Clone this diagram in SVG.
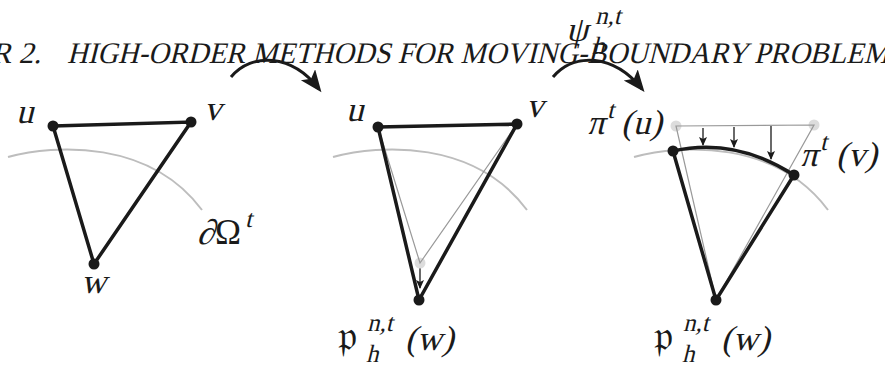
<svg xmlns="http://www.w3.org/2000/svg" width="885" height="370" viewBox="0 0 885 370">
<style>
text{font-family:"Liberation Serif","DejaVu Serif",serif;font-style:normal;fill:#1a1a1a}
.hdr{font-size:30px}
.m{font-size:35px}
.s{font-size:25px}
.fr{font-family:"DejaVu Serif","DejaVu Sans",serif;font-size:42px}
.edge{stroke:#1a1a1a;stroke-width:3.5;fill:none;stroke-linecap:round}
.thin{stroke:#999;stroke-width:1.2;fill:none}
.bd{stroke:#bdbdbd;stroke-width:2;fill:none}
.dot{fill:#1a1a1a}
.ghost{fill:#dcdcdc}
.big{stroke:#1a1a1a;stroke-width:3;fill:none;marker-end:url(#bigHead)}
.small{stroke:#1a1a1a;stroke-width:1.3;fill:none;marker-end:url(#smallHead)}
</style>
<defs>
<marker id="bigHead" markerUnits="userSpaceOnUse" markerWidth="24" markerHeight="20" refX="18" refY="9" orient="auto">
<path d="M0,0 L22,9 L0,18 L5,9 z" fill="#1a1a1a"/>
</marker>
<marker id="smallHead" markerUnits="userSpaceOnUse" markerWidth="10" markerHeight="8" refX="8" refY="4" orient="auto">
<path d="M0,0 L9,4 L0,8 L2,4 z" fill="#1a1a1a"/>
</marker>
</defs>

<g id="header">
<text class="hdr" transform="translate(41,63) skewX(-14)" text-anchor="end">R 2.</text>
<text class="hdr" transform="translate(67,63) skewX(-14)" textLength="822" lengthAdjust="spacingAndGlyphs">HIGH-ORDER METHODS FOR MOVING-BOUNDARY PROBLEM</text>
</g>

<g id="boundaries">
<path class="bd" d="M8,157 C55,144 150,140 202,210"/>
<path class="bd" d="M333,157 C380,144 475,140 527,210"/>
<path class="bd" d="M634,157 C681,144 776,140 828,210"/>
</g>

<g id="connectors">
<path class="big" d="M231,77 C252,52 292,54 319,89"/>
<path class="big" d="M553,77 C574,52 614,54 642,89"/>
<path class="small" d="M420,265 L420,288"/>
<path class="small" d="M703,128 L703,145"/>
<path class="small" d="M734,127 L734,147"/>
<path class="small" d="M771,126 L771,159"/>
</g>

<g id="triangle-initial">
<path class="edge" d="M53,126 L191,122 L94,264 Z"/>
<circle class="dot" cx="53" cy="126" r="5.5"/>
<circle class="dot" cx="191" cy="122" r="5.5"/>
<circle class="dot" cx="94" cy="264" r="5.5"/>
<text class="m" transform="translate(16,123) skewX(-14)">u</text>
<text class="m" transform="translate(204,120) skewX(-14)">v</text>
<text class="m" transform="translate(81,293) skewX(-14)">w</text>
<text class="m" transform="translate(197,244) skewX(-14)">∂</text>
<text class="m" x="215" y="244">Ω</text>
<text class="s" transform="translate(245,227) skewX(-14)">t</text>
</g>

<g id="triangle-interior-moved">
<circle class="ghost" cx="420" cy="263" r="5.5"/>
<path class="thin" d="M378,127 L420,263 L517,124"/>
<path class="edge" d="M378,127 L517,124 L419,300 Z"/>
<circle class="dot" cx="378" cy="127" r="5.5"/>
<circle class="dot" cx="517" cy="124" r="5.5"/>
<circle class="dot" cx="419" cy="300" r="5.5"/>
<text class="m" transform="translate(346,121) skewX(-14)">u</text>
<text class="m" transform="translate(526,117) skewX(-14)">v</text>
<text class="fr" x="338" y="350">𝔭</text>
<text class="s" transform="translate(367,331) skewX(-14)">n,t</text>
<text class="s" transform="translate(366,362) skewX(-14)">h</text>
<text class="m" transform="translate(405,350) skewX(-14)">(w)</text>
</g>

<g id="psi-label">
<text class="m" transform="translate(566,41) skewX(-14)">ψ</text>
<text class="s" transform="translate(595,24) skewX(-14)">n,t</text>
<text class="s" transform="translate(592,54) skewX(-14)">h</text>
</g>

<g id="triangle-boundary-moved">
<circle class="ghost" cx="676" cy="126" r="5.5"/>
<circle class="ghost" cx="814" cy="125" r="5.5"/>
<path class="thin" d="M676,126 L814,125 L716,300 Z"/>
<path class="edge" d="M673,151 Q735,137 794,175 L716,300 Z"/>
<circle class="dot" cx="673" cy="151" r="5.5"/>
<circle class="dot" cx="794" cy="175" r="5.5"/>
<circle class="dot" cx="716" cy="300" r="5.5"/>
<text class="m" transform="translate(587,134) skewX(-14)">π</text>
<text class="s" transform="translate(607,118) skewX(-14)">t</text>
<text class="m" transform="translate(621,134) skewX(-14)">(u)</text>
<text class="m" transform="translate(800,166) skewX(-14)">π</text>
<text class="s" transform="translate(820,150) skewX(-14)">t</text>
<text class="m" transform="translate(836,166) skewX(-14)">(v)</text>
<text class="fr" x="654" y="350">𝔭</text>
<text class="s" transform="translate(683,331) skewX(-14)">n,t</text>
<text class="s" transform="translate(682,362) skewX(-14)">h</text>
<text class="m" transform="translate(721,350) skewX(-14)">(w)</text>
</g>
</svg>
